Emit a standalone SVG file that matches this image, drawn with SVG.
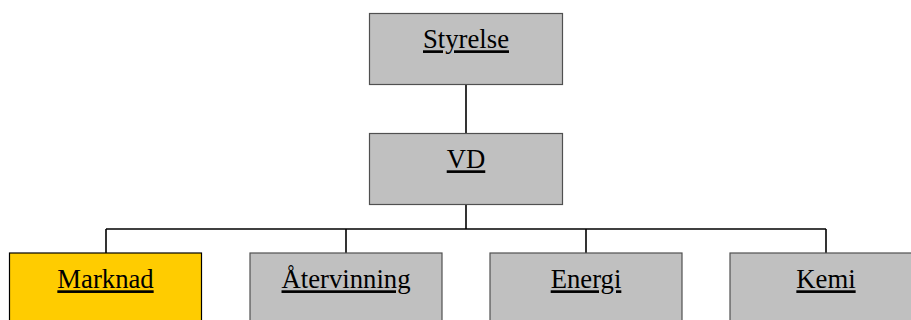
<svg xmlns="http://www.w3.org/2000/svg" width="911" height="320" viewBox="0 0 911 320">
<style>
.box{fill:#C0C0C0;stroke:#505050;stroke-width:1.2}
.hl{fill:#FFCC00;stroke:#000;stroke-width:1.2}
.lbl{font-family:"Liberation Serif","Times New Roman",serif;font-size:26.7px;fill:#000;text-anchor:middle;text-decoration:underline}
.con{stroke:#000;stroke-width:1.6;fill:none}
</style>
<rect width="911" height="320" fill="#fff"/>
<g id="connectors">
<line class="con" x1="466" y1="84.5" x2="466" y2="133.5"/>
<line class="con" x1="466" y1="204.5" x2="466" y2="229"/>
<line class="con" x1="106" y1="229" x2="826" y2="229"/>
<line class="con" x1="106" y1="229" x2="106" y2="253"/>
<line class="con" x1="346" y1="229" x2="346" y2="253"/>
<line class="con" x1="586" y1="229" x2="586" y2="253"/>
<line class="con" x1="826" y1="229" x2="826" y2="253"/>
</g>
<g id="styrelse">
<rect class="box" x="369.5" y="13.5" width="193" height="71"/>
<text class="lbl" x="466" y="48.3">Styrelse</text>
</g>
<g id="vd">
<rect class="box" x="369.5" y="133.5" width="193" height="71"/>
<text class="lbl" x="466" y="168.3">VD</text>
</g>
<g id="marknad">
<rect class="hl" x="9.5" y="253" width="192" height="80"/>
<text class="lbl" x="105.5" y="288.3">Marknad</text>
</g>
<g id="atervinning">
<rect class="box" x="250" y="253" width="192" height="80"/>
<text class="lbl" x="346" y="288.3">Återvinning</text>
</g>
<g id="energi">
<rect class="box" x="490" y="253" width="192" height="80"/>
<text class="lbl" x="586" y="288.3">Energi</text>
</g>
<g id="kemi">
<rect class="box" x="730" y="253" width="192" height="80"/>
<text class="lbl" x="826" y="288.3">Kemi</text>
</g>
</svg>
